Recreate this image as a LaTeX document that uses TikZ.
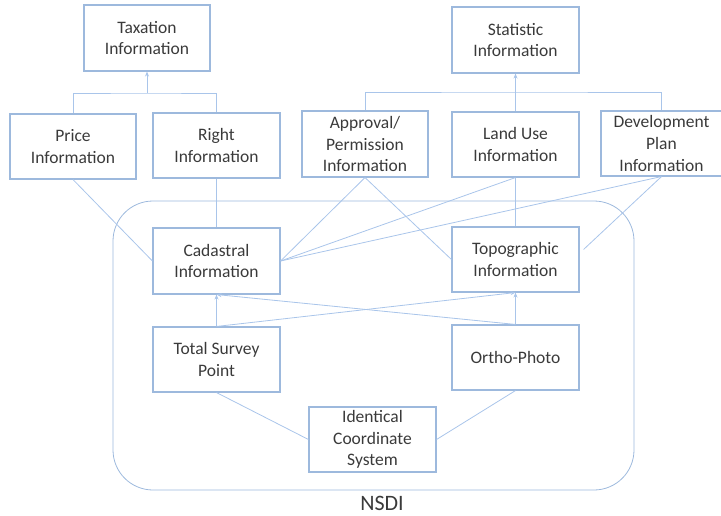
\documentclass[tikz,border=0pt]{standalone}
\usepackage{fontspec}
\setmainfont{Carlito}
\usetikzlibrary{arrows.meta,calc}
\definecolor{boxc}{HTML}{9DB9DD}
\definecolor{linec}{HTML}{A9C5EA}
\definecolor{txt}{HTML}{3A3A3A}
\begin{document}
\begin{tikzpicture}[x=1pt,y=-1pt,
  box/.style={draw=boxc,line width=1.1pt,minimum width=127pt,minimum height=65pt,
    align=center,inner sep=0pt,text=txt,font=\fontsize{17.5}{21.7}\selectfont},
  conn/.style={draw=linec,line width=0.8pt},
  arr/.style={conn,-{Stealth[length=5pt,width=4pt]}}]
\useasboundingbox (0,0) rectangle (721,516);
% NSDI frame
\draw[draw=boxc,line width=0.8pt,rounded corners=40pt] (113,201) rectangle (634,490);
\node[text=txt,font=\fontsize{22}{26}\selectfont] (nsdi) at (382,503) {NSDI};
% boxes
\node[box,minimum width=126pt,minimum height=66pt] (tax) at (147,38) {Taxation\\Information};
\node[box,minimum height=66pt] (stat) at (515.5,40) {Statistic\\Information};
\node[box,minimum width=126pt] (price) at (73,146.5) {Price\\Information};
\node[box] (right) at (216.5,145.5) {Right\\Information};
\node[box,minimum width=126pt,minimum height=66pt] (appr) at (365,144) {Approval/\\Permission\\Information};
\node[box] (land) at (515.5,144.5) {Land Use\\Information};
\node[box,minimum width=121pt] (dev) at (661.5,143.5) {Development\\Plan\\Information};
\node[box,minimum height=66pt] (cad) at (216.5,261) {Cadastral\\Information};
\node[box] (topo) at (515.5,259.5) {Topographic\\Information};
\node[box] (tsp) at (216.5,359.5) {Total Survey\\Point};
\node[box] (ortho) at (515.5,357.5) {Ortho-Photo};
\node[box] (ident) at (372.5,439.5) {Identical\\Coordinate\\System};
% top connectors
\coordinate (tj) at (147,93);
\draw[conn] (price.north) |- (tj) -| (right.north);
\draw[arr] (tj) -- (tax.south);
\coordinate (sj) at (515.5,92);
\draw[conn] (appr.north) |- (sj) -| (dev.north);
\draw[arr] (land.north) -- (stat.south);
% to cadastral / topographic
\draw[conn] (price.south) -- (cad.west);
\draw[conn] (right.south) -- (cad.north);
\draw[conn] (appr.south) -- (cad.east);
\draw[conn] (appr.south) -- (topo.west);
\draw[conn] (land.south) -- (cad.east);
\draw[conn] (land.south) -- (topo.north);
\draw[conn] (dev.south) -- (cad.east);
\coordinate (te) at ($(topo.east)+(4,-10)$);
\draw[conn] (dev.south) -- (te);
% bottom arrows
\draw[arr] (tsp.north) -- (cad.south);
\draw[arr] (tsp.north) -- (topo.south);
\draw[arr] (ortho.north) -- (topo.south);
\draw[arr] (ortho.north) -- (cad.south);
\draw[conn] (tsp.south) -- (ident.west);
\draw[conn] (ortho.south) -- (ident.east);
\end{tikzpicture}
\end{document}
